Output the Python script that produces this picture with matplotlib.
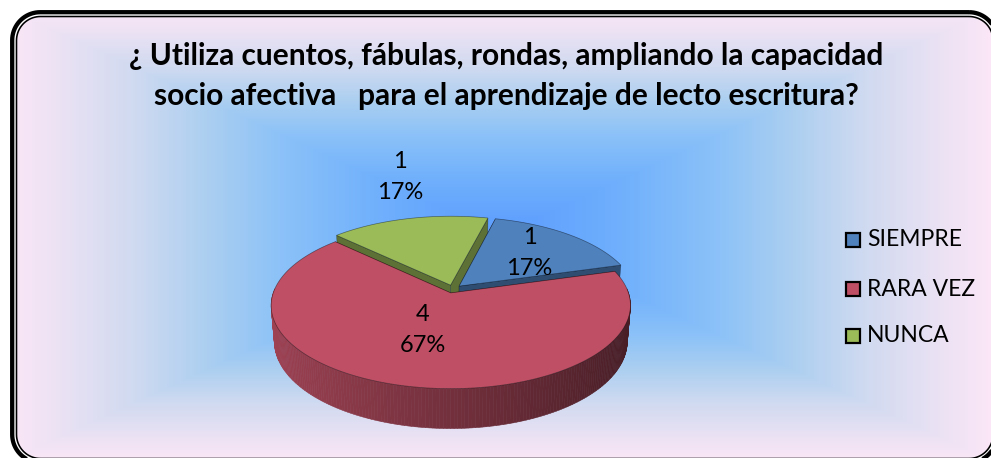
import numpy as np
import matplotlib
matplotlib.use("Agg")
import matplotlib.pyplot as plt
from matplotlib.patches import Polygon, Rectangle
from matplotlib.colors import LinearSegmentedColormap, to_rgb

plt.rcParams['font.family'] = ['Lato', 'DejaVu Sans']

# data
title = ("¿ Utiliza cuentos, fábulas, rondas, ampliando la capacidad\n"
         "socio afectiva   para el aprendizaje de lecto escritura?")
categories = ["SIEMPRE", "RARA VEZ", "NUNCA"]
values = [1, 4, 1]
colors = ["#4f81bd", "#be4f64", "#9bbb59"]

# pie geometry (pixel space, simple perspective)
CX, CY = 453, 289
F, D = 1058, 6.0
SIN_E = 0.455
COS_E = np.sqrt(1 - SIN_E ** 2)
H = 0.23
EXPLODE = 0.05
START = 76
label_pos = [(0.62, 0), (0.45, -5), (1.75, -4)]


def proj(X, Y, Z):
    depth = D + Z * COS_E - Y * SIN_E
    up = Y * COS_E + Z * SIN_E
    return CX + F * X / depth, CY - F * up / depth, depth


def rounded_rect(x0, y0, x1, y1, r, n=20):
    pts = []
    corners = [(x1 - r, y0 + r, -90, 0), (x1 - r, y1 - r, 0, 90),
               (x0 + r, y1 - r, 90, 180), (x0 + r, y0 + r, 180, 270)]
    for cx, cy, s, e in corners:
        for a in np.radians(np.linspace(s, e, n)):
            pts.append((cx + r * np.cos(a), cy + r * np.sin(a)))
    return pts


W_PX, H_PX = 991, 458
fig = plt.figure(figsize=(W_PX / 100, H_PX / 100), dpi=100)
ax = fig.add_axes([0, 0, 1, 1])
ax.set_xlim(0, W_PX)
ax.set_ylim(H_PX, 0)
ax.axis('off')

# background gradient inside rounded frame
gx = np.linspace(0, W_PX, W_PX)
gy = np.linspace(0, H_PX, H_PX)
XX, YY = np.meshgrid(gx, gy)
t = np.maximum(np.abs(XX - 500) / 490, np.abs(YY - 235) / 225)
t = np.clip(t, 0, 1)
bg_cmap = LinearSegmentedColormap.from_list("bg", [
    (0.0, "#5c9cff"), (0.25, "#70b0fc"), (0.45, "#8cc2f8"),
    (0.6, "#accff0"), (0.75, "#d0daf0"), (0.9, "#ebe2f4"), (1.0, "#fae6f6")])
img = ax.imshow(t, cmap=bg_cmap, extent=(0, W_PX, H_PX, 0), aspect='auto',
                vmin=0, vmax=1, zorder=0)
inner = rounded_rect(16.5, 16.5, 993, 458.5, 24)
clip = Polygon(inner, closed=True, facecolor='none', edgecolor='none')
ax.add_patch(clip)
img.set_clip_path(clip)

ax.add_patch(Polygon(rounded_rect(12.2, 12.2, 997, 462.5, 28), closed=True,
                     facecolor='none', edgecolor='black', lw=3.1, zorder=6))
ax.add_patch(Polygon(inner, closed=True, facecolor='none',
                     edgecolor='black', lw=1.15, zorder=6))

# 3D pie
total = sum(values)
sides = []
tops = []
a0 = START
for i, v in enumerate(values):
    a1 = a0 - 360 * v / total
    mid = np.radians((a0 + a1) / 2)
    ox, oz = EXPLODE * np.cos(mid), EXPLODE * np.sin(mid)
    base = np.array(to_rgb(colors[i]))
    th = np.radians(np.linspace(a0, a1, max(int(abs(a1 - a0)), 2) + 1))

    # top face
    pts = [proj(ox, 0, oz)] + [proj(ox + np.cos(a), 0, oz + np.sin(a)) for a in th]
    poly = [(p[0], p[1]) for p in pts]
    dmean = np.mean([p[2] for p in pts])
    tops.append((dmean, poly, base))

    # outer curved side
    for a, b in zip(th[:-1], th[1:]):
        if np.sin((a + b) / 2) > 0.05:
            continue
        q = [proj(ox + np.cos(a), 0, oz + np.sin(a)),
             proj(ox + np.cos(b), 0, oz + np.sin(b)),
             proj(ox + np.cos(b), -H, oz + np.sin(b)),
             proj(ox + np.cos(a), -H, oz + np.sin(a))]
        shade = 0.84 - (np.cos((a + b) / 2) + 1) / 2 * 0.47
        sides.append((np.mean([p[2] for p in q]), [(p[0], p[1]) for p in q],
                      np.clip(base * shade, 0, 1), True))

    # radial faces
    for a in (th[0], th[-1]):
        q = [proj(ox, 0, oz), proj(ox + np.cos(a), 0, oz + np.sin(a)),
             proj(ox + np.cos(a), -H, oz + np.sin(a)), proj(ox, -H, oz)]
        sides.append((np.mean([p[2] for p in q]), [(p[0], p[1]) for p in q],
                      base * 0.6, False))

    # data label
    r, dang = label_pos[i]
    la = mid + np.radians(dang)
    lx, ly, _ = proj(ox + r * np.cos(la), 0, oz + r * np.sin(la))
    pct = 100 * v / total
    ax.text(lx, ly, f"{v}\n{pct:.0f}%", ha='center', va='center',
            fontsize=17, linespacing=1.55, color='black', zorder=5)
    a0 = a1

for d, poly, col, curved in sorted(sides, key=lambda s: -s[0]):
    ax.add_patch(Polygon(poly, closed=True, facecolor=col,
                         edgecolor=col if curved else (0, 0, 0, 0.35),
                         lw=0.4, zorder=2))
for d, poly, col in sorted(tops, key=lambda s: -s[0]):
    ax.add_patch(Polygon(poly, closed=True, facecolor=col,
                         edgecolor=(0, 0, 0, 0.45), lw=0.5, zorder=3))

# title
ax.text(506, 76, title, ha='center', va='center', fontsize=21.5,
        fontweight='bold', linespacing=1.5, zorder=5)

# legend
leg_y = [240, 289, 336]
for cat, col, y in zip(categories, colors, leg_y):
    ax.add_patch(Rectangle((846, y - 7), 14, 14, facecolor=col,
                           edgecolor='black', lw=1.6, zorder=5))
    ax.text(867, y, cat, ha='left', va='center', fontsize=16.5, zorder=5)

fig.savefig("out.png", dpi=100)
